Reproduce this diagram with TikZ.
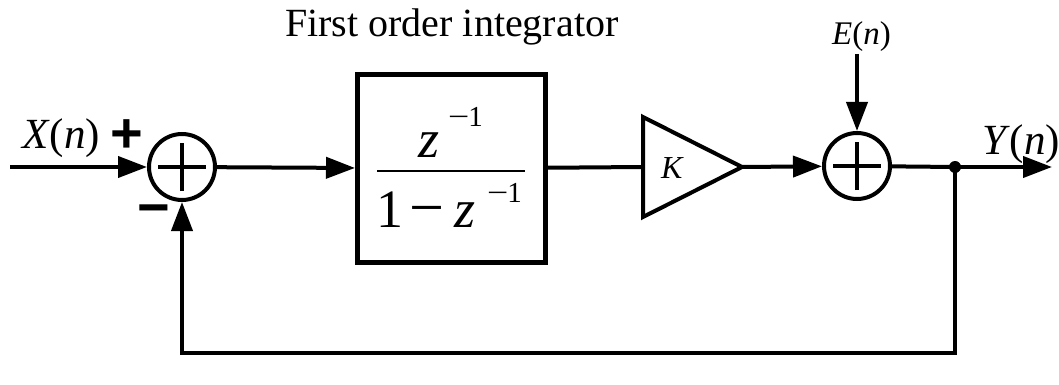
\documentclass[tikz,border=0pt]{standalone}
\usepackage{fontspec}
\setmainfont{Liberation Serif}
\newfontfamily\sansfnt{Liberation Sans}
\usetikzlibrary{arrows.meta}
\newcommand{\wminus}{\scalebox{1.3}[1]{−}}
\tikzset{
  x=1pt, y=-1pt,
  wire/.style={line width=4pt},
  arr/.style={wire, -{Triangle[length=29pt,width=21pt]}},
  sumnode/.style={circle, draw, line width=4pt, minimum size=66pt, inner sep=0pt,
    path picture={
      \draw[line width=4pt] ([xshift=-24pt]path picture bounding box.center) -- ([xshift=24pt]path picture bounding box.center);
      \draw[line width=4pt] ([yshift=-24pt]path picture bounding box.center) -- ([yshift=24pt]path picture bounding box.center);
    }},
  blockbox/.style={draw, line width=5pt, minimum width=188pt, minimum height=188pt, inner sep=0pt},
  txt/.style={inner sep=0pt, anchor=base west},
  fracfont/.style={font=\fontsize{54}{54}\selectfont},
  supfont/.style={font=\fontsize{29}{29}\selectfont},
  sign/.style={inner sep=0pt, font=\sansfnt\bfseries\fontsize{56}{56}\selectfont},
}
\begin{document}
\begin{tikzpicture}
\useasboundingbox (0,0) rectangle (1059,385);
% nodes
\coordinate (xin) at (10,167);
\node[sumnode] (s1) at (182,167) {};
\node[blockbox] (int) at (451.5,168.5) {};
\coordinate (kin) at (643,167);
\coordinate (kout) at (742,167);
\node[sumnode] (s2) at (857,166) {};
\coordinate (ein) at (857,54);
\coordinate (dot) at (955,167);
\coordinate (yout) at (1052,167);
\coordinate (fb) at (955,353);
% amplifier
\draw[line width=4pt, line join=miter] (643,117) -- (742,167) -- (643,217) -- cycle;
\node[txt, font=\fontsize{32}{32}\selectfont] (klab) at (661,178) {\textit{K}};
% fraction
\node[txt, fracfont] (nz) at (418,157) {\textit{z}};
\node[txt, supfont] (ns) at (448,127) {\wminus\kern-1pt 1};
\draw[line width=2.5pt] (377,171) -- (525,171);
\node[txt, fracfont] (d1) at (376,227) {1};
\node[txt, font=\fontsize{62}{62}\selectfont] (dm) at (409,228) {−};
\node[txt, fracfont] (dz) at (454,227) {\textit{z}};
\node[txt, supfont] (ds) at (487,202) {\wminus\kern-1pt 1};
% labels
\node[txt, font=\fontsize{40}{40}\selectfont] (title) at (285,37) {First order integrator};
\node[txt, font=\fontsize{43}{43}\selectfont] (xl) at (22,148) {\textit{X}(\textit{n})};
\node[txt, font=\fontsize{43}{43}\selectfont] (yl) at (982,154) {\textit{Y}(\textit{n})};
\node[txt, font=\fontsize{33}{33}\selectfont] (el) at (832,45) {\textit{E}(\textit{n})};
\node[sign] (plus) at (127,136) {+};
\node[sign] (minus) at (154,216) {−};
% connectors
\draw[arr] (xin) -- (s1);
\draw[arr] (s1) -- (int);
\draw[wire] (int) -- (kin);
\draw[arr] (kout) -- (s2);
\draw[arr] (ein) -- (s2);
\draw[wire] (s2) -- (dot);
\draw[arr] (dot) -- (yout);
\draw[arr, line join=miter] (dot) -- (fb) -| (s1);
\fill (dot) circle (6pt);
\end{tikzpicture}
\end{document}
